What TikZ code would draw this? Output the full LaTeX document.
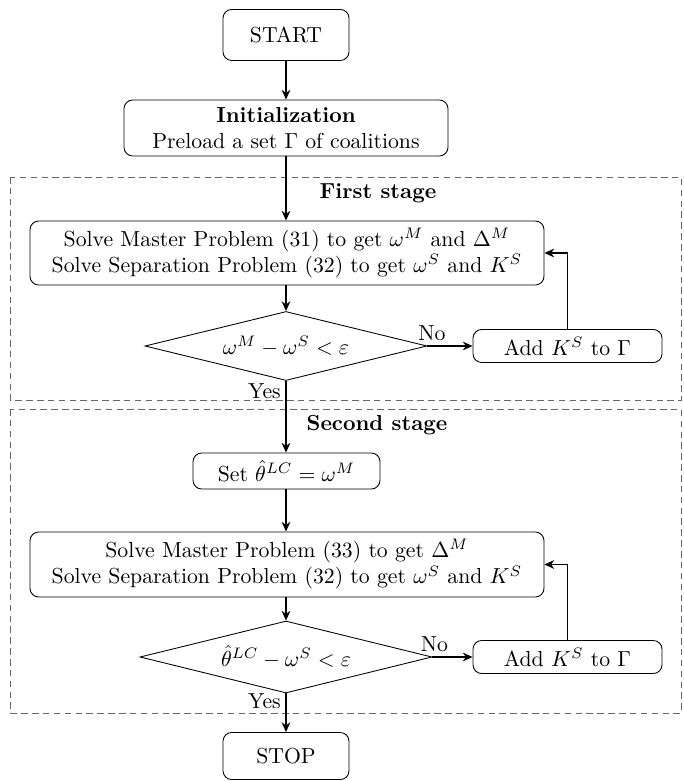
\documentclass[tikz,border=0pt]{standalone}
\usetikzlibrary{shapes.geometric,arrows.meta}
\begin{document}
\begin{tikzpicture}[x=0.46pt,y=-0.46pt,
  box/.style={draw,thin,rounded corners=4pt,align=center,inner sep=0pt},
  dec/.style={draw,thin,diamond,aspect=4,inner sep=0pt},
  arr/.style={thick,-{Stealth[length=4.5pt,width=4pt]}},
  stagebox/.style={draw=black!60,thin,dash pattern=on 3pt off 2pt},
  lbl/.style={inner sep=2pt}]
\useasboundingbox (0,0) rectangle (683,781);
% stage frames
\draw[stagebox] (10,177) rectangle (681,400);
\draw[stagebox] (10,409) rectangle (681,713);
\node[font=\bfseries] (t1) at (378,193) {First stage};
\node[font=\bfseries] (t2) at (377,425) {Second stage};
% nodes
\node[box,minimum width=126*0.46pt,minimum height=51*0.46pt] (start) at (286,35) {START};
\node[box,minimum width=324*0.46pt,minimum height=56*0.46pt] (init) at (286,128) {\textbf{Initialization}\\ Preload a set $\Gamma$ of coalitions};
\node[box,minimum width=514*0.46pt,minimum height=64*0.46pt] (m1) at (287,253) {Solve Master Problem (31) to get $\omega^M$ and $\Delta^M$\\ Solve Separation Problem (32) to get $\omega^S$ and $K^S$};
\node[dec,minimum width=282*0.46pt,minimum height=69*0.46pt] (d1) at (286,346) {$\omega^M-\omega^S<\varepsilon$};
\node[box,minimum width=189*0.46pt,minimum height=33*0.46pt] (a1) at (567.5,346) {Add $K^S$ to $\Gamma$};
\node[box,minimum width=187*0.46pt,minimum height=36*0.46pt] (set) at (286.5,471) {Set $\hat{\theta}^{LC}=\omega^M$};
\node[box,minimum width=514*0.46pt,minimum height=65*0.46pt] (m2) at (287,564.5) {Solve Master Problem (33) to get $\Delta^M$\\ Solve Separation Problem (32) to get $\omega^S$ and $K^S$};
\node[dec,minimum width=292*0.46pt,minimum height=72*0.46pt] (d2) at (286,657) {$\hat{\theta}^{LC}-\omega^S<\varepsilon$};
\node[box,minimum width=189*0.46pt,minimum height=33*0.46pt] (a2) at (567.5,657) {Add $K^S$ to $\Gamma$};
\node[box,minimum width=126*0.46pt,minimum height=47*0.46pt] (stop) at (286,756) {STOP};
% connectors
\draw[arr] (start) -- (init);
\draw[arr] (init) -- (init.south |- m1.north);
\draw[arr] (m1.south -| d1.north) -- (d1);
\draw[arr] (d1.east) -- node[lbl,pos=0.1,above]{No} (a1.west);
\draw[arr] (a1.north) |- (m1.east);
\draw[arr] (d1.south) -- node[lbl,pos=0.15,left]{Yes} (set.north -| d1.south);
\draw[arr] (set.south -| d1.south) -- (m2.north -| d1.south);
\draw[arr] (m2.south -| d2.north) -- (d2);
\draw[arr] (d2.east) -- node[lbl,pos=0.05,above]{No} (a2.west);
\draw[arr] (a2.north) |- (m2.east);
\draw[arr] (d2.south) -- node[lbl,pos=0.2,left]{Yes} (stop.north -| d2.south);
\end{tikzpicture}
\end{document}
